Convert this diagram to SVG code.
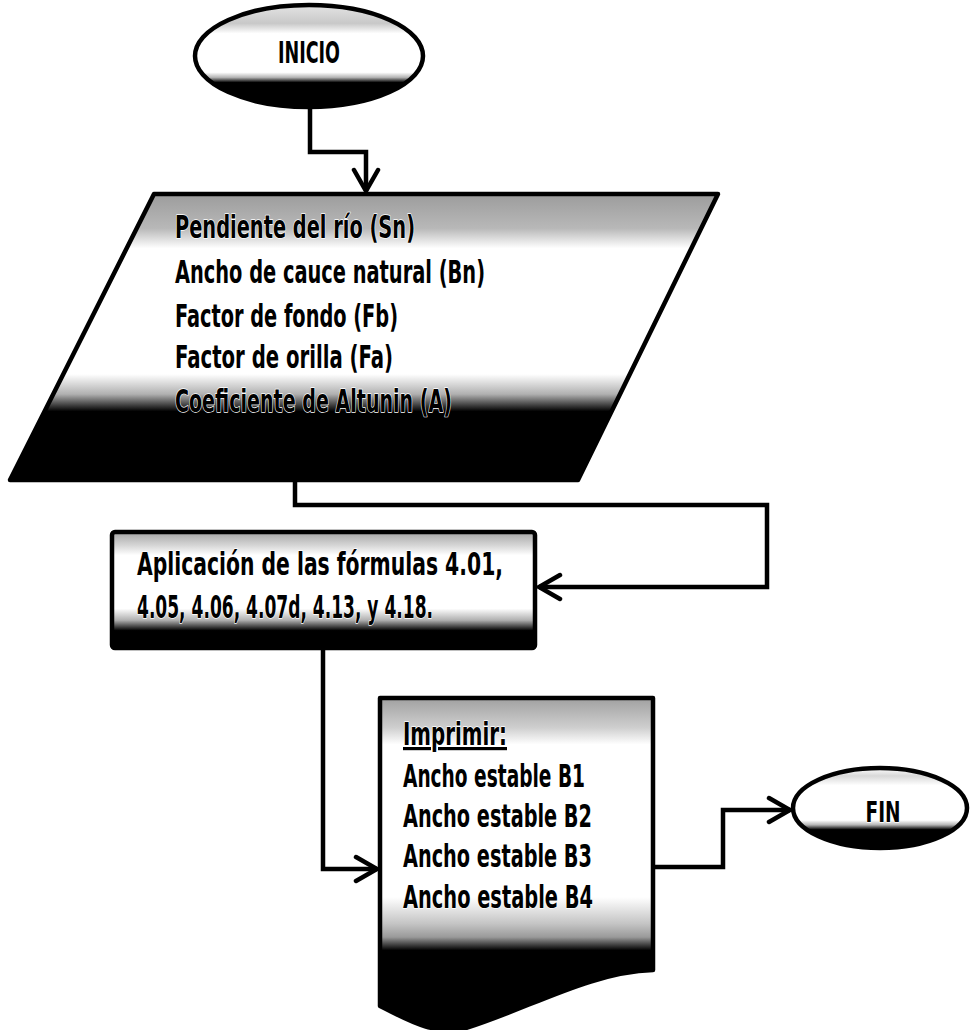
<svg xmlns="http://www.w3.org/2000/svg" width="970" height="1030" viewBox="0 0 970 1030">
  <style>
    .shape { stroke: #000; stroke-width: 4.5; stroke-linejoin: round; }
    .wire { fill: none; stroke: #000; stroke-width: 4.5; stroke-linejoin: miter; }
    .lbl { font-family: "DejaVu Sans Condensed", "Liberation Sans Narrow", "Liberation Sans", sans-serif; font-weight: bold; fill: #000; stroke: #fff; stroke-width: 1.4; paint-order: stroke; stroke-linejoin: round; }
  </style>
  <defs>
    <marker id="arrow" markerUnits="userSpaceOnUse" viewBox="-26 -16 30 32" refX="0" refY="0" markerWidth="30" markerHeight="32" orient="auto">
      <path d="M-21,-12 L0,0 L-21,12" fill="none" stroke="#000" stroke-width="4.5" stroke-linecap="round" stroke-linejoin="miter"/>
    </marker>
    <!-- top grey band, white body, dark base -->
    <linearGradient id="gStart" gradientUnits="userSpaceOnUse" x1="0" y1="5" x2="0" y2="107">
      <stop offset="0" stop-color="#e4e4e4"/>
      <stop offset="0.18" stop-color="#c8c8c8"/>
      <stop offset="0.28" stop-color="#ffffff"/>
      <stop offset="0.66" stop-color="#ffffff"/>
      <stop offset="0.71" stop-color="#b4b4b4"/>
      <stop offset="0.76" stop-color="#000000"/>
      <stop offset="1" stop-color="#000000"/>
    </linearGradient>
    <linearGradient id="gInput" gradientUnits="userSpaceOnUse" x1="0" y1="194" x2="0" y2="480">
      <stop offset="0" stop-color="#9c9c9c"/>
      <stop offset="0.12" stop-color="#b8b8b8"/>
      <stop offset="0.19" stop-color="#ffffff"/>
      <stop offset="0.63" stop-color="#ffffff"/>
      <stop offset="0.70" stop-color="#b0b0b0"/>
      <stop offset="0.76" stop-color="#000000"/>
      <stop offset="1" stop-color="#000000"/>
    </linearGradient>
    <linearGradient id="gProc" gradientUnits="userSpaceOnUse" x1="0" y1="532" x2="0" y2="648">
      <stop offset="0" stop-color="#a4a4a4"/>
      <stop offset="0.12" stop-color="#d8d8d8"/>
      <stop offset="0.2" stop-color="#ffffff"/>
      <stop offset="0.66" stop-color="#ffffff"/>
      <stop offset="0.76" stop-color="#b0b0b0"/>
      <stop offset="0.85" stop-color="#000000"/>
      <stop offset="1" stop-color="#000000"/>
    </linearGradient>
    <linearGradient id="gDoc" gradientUnits="userSpaceOnUse" x1="0" y1="698" x2="0" y2="1030">
      <stop offset="0" stop-color="#a0a0a0"/>
      <stop offset="0.09" stop-color="#cfcfcf"/>
      <stop offset="0.14" stop-color="#ffffff"/>
      <stop offset="0.6" stop-color="#ffffff"/>
      <stop offset="0.68" stop-color="#c4c4c4"/>
      <stop offset="0.72" stop-color="#9a9a9a"/>
      <stop offset="0.76" stop-color="#000000"/>
      <stop offset="1" stop-color="#000000"/>
    </linearGradient>
    <linearGradient id="gEnd" gradientUnits="userSpaceOnUse" x1="0" y1="768" x2="0" y2="847">
      <stop offset="0" stop-color="#ffffff"/>
      <stop offset="0.1" stop-color="#d8d8d8"/>
      <stop offset="0.22" stop-color="#ffffff"/>
      <stop offset="0.66" stop-color="#ffffff"/>
      <stop offset="0.72" stop-color="#b4b4b4"/>
      <stop offset="0.78" stop-color="#000000"/>
      <stop offset="1" stop-color="#000000"/>
    </linearGradient>
  </defs>

  <rect width="970" height="1030" fill="#fff"/>

  <!-- connectors -->
  <g id="connectors">
    <path class="wire" d="M310,107 V152 H366 V191" marker-end="url(#arrow)"/>
    <path class="wire" d="M295,480 V505 H767 V587 H539" marker-end="url(#arrow)"/>
    <path class="wire" d="M323,648 V869 H377" marker-end="url(#arrow)"/>
    <path class="wire" d="M653,867 H723 V810 H790" marker-end="url(#arrow)"/>
  </g>

  <!-- start terminal -->
  <g id="inicio">
    <ellipse class="shape" cx="309" cy="56" rx="114" ry="51" fill="url(#gStart)"/>
    <text class="lbl" x="309" y="63" font-size="31" text-anchor="middle" textLength="62" lengthAdjust="spacingAndGlyphs">INICIO</text>
  </g>

  <!-- data input -->
  <g id="datos">
    <polygon class="shape" points="154,194 718,194 578,480 10,480" fill="url(#gInput)"/>
    <g class="lbl" font-size="32">
      <text x="175" y="238" textLength="240" lengthAdjust="spacingAndGlyphs">Pendiente del río (Sn)</text>
      <text x="175" y="283" textLength="310" lengthAdjust="spacingAndGlyphs">Ancho de cauce natural (Bn)</text>
      <text x="175" y="327" textLength="223" lengthAdjust="spacingAndGlyphs">Factor de fondo (Fb)</text>
      <text x="175" y="368" textLength="218" lengthAdjust="spacingAndGlyphs">Factor de orilla (Fa)</text>
      <text x="175" y="412" textLength="277" lengthAdjust="spacingAndGlyphs">Coeficiente de Altunin (A)</text>
    </g>
  </g>

  <!-- process -->
  <g id="proceso">
    <rect class="shape" x="112" y="532" width="423" height="116" rx="3" fill="url(#gProc)"/>
    <g class="lbl" font-size="32">
      <text x="137" y="575" textLength="366" lengthAdjust="spacingAndGlyphs">Aplicación  de  las  fórmulas  4.01,</text>
      <text x="137" y="618" textLength="296" lengthAdjust="spacingAndGlyphs">4.05, 4.06, 4.07d, 4.13, y 4.18.</text>
    </g>
  </g>

  <!-- output document -->
  <g id="imprimir">
    <path class="shape" d="M380,698 H653 V970 C590,972 530,1008 466,1028 C432,1036 405,1018 380,1006 Z" fill="url(#gDoc)"/>
    <g class="lbl" font-size="32">
      <text x="403" y="745" textLength="104" lengthAdjust="spacingAndGlyphs" text-decoration="underline">Imprimir:</text>
      <text x="403" y="787" textLength="182" lengthAdjust="spacingAndGlyphs">Ancho estable B1</text>
      <text x="403" y="827" textLength="189" lengthAdjust="spacingAndGlyphs">Ancho estable B2</text>
      <text x="403" y="867" textLength="189" lengthAdjust="spacingAndGlyphs">Ancho estable B3</text>
      <text x="403" y="908" textLength="190" lengthAdjust="spacingAndGlyphs">Ancho estable B4</text>
    </g>
  </g>

  <!-- end terminal -->
  <g id="fin">
    <ellipse class="shape" cx="880" cy="808" rx="87" ry="40" fill="url(#gEnd)"/>
    <text class="lbl" x="883" y="822" font-size="29" text-anchor="middle" textLength="35" lengthAdjust="spacingAndGlyphs">FIN</text>
  </g>
</svg>
